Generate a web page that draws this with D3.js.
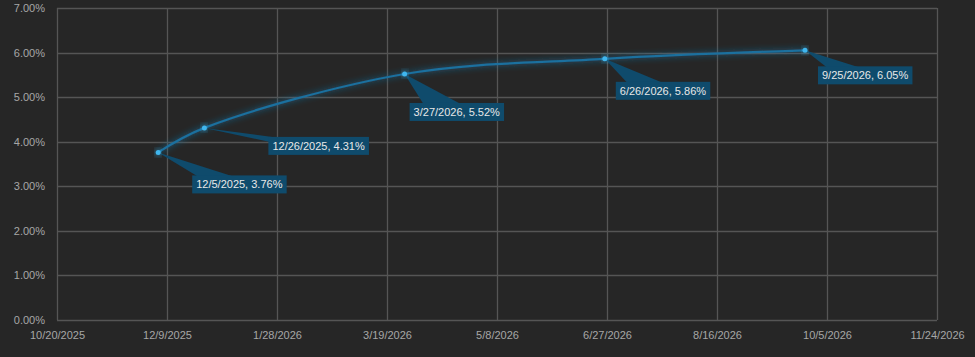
<!DOCTYPE html>
<html>
<head>
<meta charset="utf-8">
<script src="https://cdn.jsdelivr.net/npm/d3@7"></script>
<style>
  html, body { margin: 0; padding: 0; background: #262626; }
  svg { display: block; }
  text { font-family: "Liberation Sans", Arial, sans-serif; }
</style>
</head>
<body>
<svg id="chart" width="975" height="357"></svg>
<script>
// ---- data ----
const dates = ["2025-12-05", "2025-12-26", "2026-03-27", "2026-06-26", "2026-09-25"];
const rates = [0.0376, 0.0431, 0.0552, 0.0586, 0.0605];
const xTickLabels = ["10/20/2025", "12/9/2025", "1/28/2026", "3/19/2026", "5/8/2026", "6/27/2026", "8/16/2026", "10/5/2026", "11/24/2026"];
const yTickValues = [0, 0.01, 0.02, 0.03, 0.04, 0.05, 0.06, 0.07];

// ---- layout (label box offsets from the point) ----
const labelOffsets = [[34, 23], [64, 9], [5, 29], [11, 23], [13, 16]];

(function () {
const svg = d3.select("#chart");
const W = 975, H = 357;
const pLeft = 57, pRight = 937, pTop = 8, pBottom = 320;

svg.append("rect").attr("width", W).attr("height", H).attr("fill", "#262626");

const parse = d3.utcParse("%Y-%m-%d");
const parseTick = d3.utcParse("%m/%d/%Y");
const tickDates = xTickLabels.map(s => parseTick(s));
const fmtDate = d => `${d.getUTCMonth() + 1}/${d.getUTCDate()}/${d.getUTCFullYear()}`;

const x = d3.scaleUtc().domain([tickDates[0], tickDates[tickDates.length - 1]]).range([pLeft, pRight]);
const y = d3.scaleLinear().domain([0, 0.07]).range([pBottom, pTop]);

const data = dates.map((d, i) => ({ date: parse(d), v: rates[i] }));

// filters
const defs = svg.append("defs");
const glow = defs.append("filter").attr("id", "glow").attr("x", "-20%").attr("y", "-50%").attr("width", "140%").attr("height", "200%");
glow.append("feGaussianBlur").attr("in", "SourceGraphic").attr("stdDeviation", 3).attr("result", "b");
const m = glow.append("feMerge");
m.append("feMergeNode").attr("in", "b");
m.append("feMergeNode").attr("in", "SourceGraphic");

// gridlines
const grid = svg.append("g");
grid.selectAll("line.h").data(yTickValues).join("line")
  .attr("x1", pLeft).attr("x2", pRight)
  .attr("y1", d => Math.round(y(d)) + 0.5).attr("y2", d => Math.round(y(d)) + 0.5)
  .attr("stroke", "#555").attr("stroke-width", 1.3);
grid.selectAll("line.v").data(tickDates).join("line")
  .attr("y1", pTop).attr("y2", pBottom)
  .attr("x1", d => Math.round(x(d)) + 0.5).attr("x2", d => Math.round(x(d)) + 0.5)
  .attr("stroke", "#555").attr("stroke-width", 1.3);

// axes
const yAxis = d3.axisLeft(y).tickValues(yTickValues).tickFormat(d3.format(".2%")).tickSize(0).tickPadding(12);
const gy = svg.append("g").attr("transform", `translate(${pLeft},0)`).call(yAxis);
gy.select(".domain").remove();
gy.selectAll("text").attr("fill", "#a6a6a6").attr("font-size", 11);

const xAxis = d3.axisBottom(x).tickValues(tickDates).tickFormat(fmtDate).tickSize(0).tickPadding(11);
const gx = svg.append("g").attr("transform", `translate(0,${pBottom})`).call(xAxis);
gx.select(".domain").remove();
gx.selectAll("text").attr("fill", "#a6a6a6").attr("font-size", 11);

// line
const line = d3.line().x(d => x(d.date)).y(d => y(d.v)).curve(d3.curveCatmullRom.alpha(0.5));
svg.append("path").datum(data).attr("d", line)
  .attr("fill", "none").attr("stroke", "#1a6f9e").attr("stroke-width", 2.2)
  .attr("filter", "url(#glow)");

// callouts
const labels = svg.append("g");
data.forEach((d, i) => {
  const px = x(d.date), py = y(d.v);
  const [ox, oy] = labelOffsets[i];
  const g = labels.append("g");
  const wedge = g.append("path").attr("fill", "#0f4b6c");
  const rect = g.append("rect").attr("fill", "#0f4b6c");
  const t = g.append("text")
    .text(`${fmtDate(d.date)}, ${d3.format(".2%")(d.v)}`)
    .attr("fill", "#e8e8e8").attr("font-size", 11);
  const bb = t.node().getBBox();
  const bw = bb.width + 8, bh = 18;
  const bx = px + ox, by = py + oy;
  rect.attr("x", bx).attr("y", by).attr("width", bw).attr("height", bh);
  t.attr("x", bx + 4).attr("y", by + 13);
  const cx = bx + bw / 2, cy = by + bh / 2;
  wedge.attr("d", `M${px},${py}L${cx - bw * 0.3},${cy}L${cx + bw * 0.2},${cy}Z`);
});

// points
svg.append("g").selectAll("circle").data(data).join("circle")
  .attr("cx", d => x(d.date)).attr("cy", d => y(d.v)).attr("r", 2.5)
  .attr("fill", "#3fb6ee").attr("filter", "url(#glow)");
})();
</script>
</body>
</html>
